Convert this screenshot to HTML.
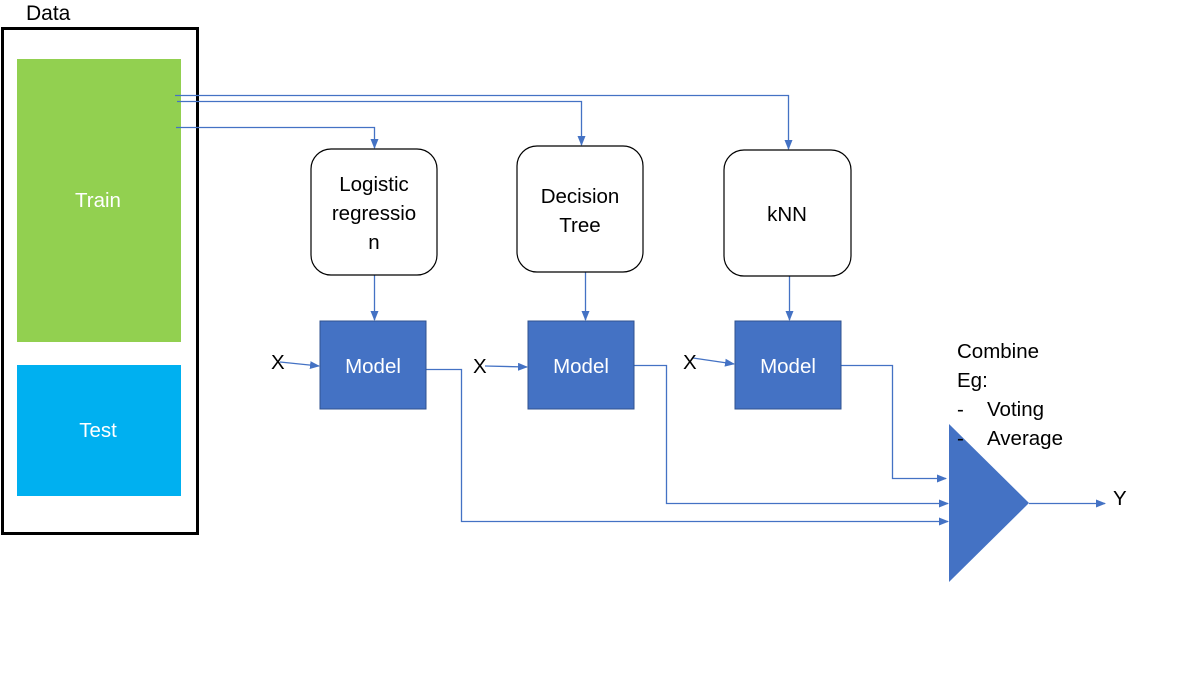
<!DOCTYPE html>
<html><head><meta charset="utf-8"><style>
html,body{margin:0;padding:0;background:#fff;}
svg{display:block;font-family:"Liberation Sans",sans-serif;}
</style></head><body>
<svg width="1199" height="698" viewBox="0 0 1199 698" xmlns="http://www.w3.org/2000/svg">
<defs>
<marker id="a" markerWidth="10" markerHeight="8" refX="9" refY="4" orient="auto" markerUnits="userSpaceOnUse">
<path d="M0,0 L10,4 L0,8 z" fill="#4472C4"/></marker>
</defs>
<text x="26" y="20" font-size="21" fill="#000">Data</text>
<rect x="2.5" y="28.5" width="195" height="505" fill="none" stroke="#000" stroke-width="3"/>
<rect x="17" y="59" width="164" height="283" fill="#92D050"/>
<text x="98" y="207" font-size="20.5" fill="#fff" text-anchor="middle">Train</text>
<rect x="17" y="365" width="164" height="131" fill="#00B0F0"/>
<text x="98" y="437" font-size="20.5" fill="#fff" text-anchor="middle">Test</text>

<g fill="none" stroke="#4472C4" stroke-width="1.3">
<polyline points="175,95.5 788.5,95.5 788.5,149" marker-end="url(#a)"/>
<polyline points="177,101.5 581.5,101.5 581.5,145" marker-end="url(#a)"/>
<polyline points="176,127.5 374.5,127.5 374.5,148" marker-end="url(#a)"/>
<line x1="374.5" y1="275" x2="374.5" y2="320" marker-end="url(#a)"/>
<line x1="585.5" y1="272" x2="585.5" y2="320" marker-end="url(#a)"/>
<line x1="789.5" y1="276" x2="789.5" y2="320" marker-end="url(#a)"/>
<line x1="280" y1="362" x2="319" y2="366" marker-end="url(#a)"/>
<line x1="485" y1="366" x2="527" y2="367" marker-end="url(#a)"/>
<line x1="693" y1="358" x2="734" y2="364" marker-end="url(#a)"/>
<polyline points="426,369.5 461.5,369.5 461.5,521.5 948,521.5" marker-end="url(#a)"/>
<polyline points="634,365.5 666.5,365.5 666.5,503.5 948,503.5" marker-end="url(#a)"/>
<polyline points="841,365.5 892.5,365.5 892.5,478.5 946,478.5" marker-end="url(#a)"/>
<line x1="1029" y1="503.5" x2="1105" y2="503.5" marker-end="url(#a)"/>
</g>

<g fill="#fff" stroke="#000" stroke-width="1.2">
<rect x="311" y="149" width="126" height="126" rx="20"/>
<rect x="517" y="146" width="126" height="126" rx="20"/>
<rect x="724" y="150" width="127" height="126" rx="20"/>
</g>
<g font-size="20.5" fill="#000" text-anchor="middle">
<text x="374" y="191">Logistic</text>
<text x="374" y="220">regressio</text>
<text x="374" y="249">n</text>
<text x="580" y="203">Decision</text>
<text x="580" y="232">Tree</text>
<text x="787" y="221">kNN</text>
</g>

<g fill="#4472C4" stroke="#2F528F" stroke-width="1">
<rect x="320" y="321" width="106" height="88"/>
<rect x="528" y="321" width="106" height="88"/>
<rect x="735" y="321" width="106" height="88"/>
</g>
<g font-size="20.5" fill="#fff" text-anchor="middle">
<text x="373" y="373">Model</text>
<text x="581" y="373">Model</text>
<text x="788" y="373">Model</text>
</g>
<g font-size="20.5" fill="#000">
<text x="271" y="369">X</text>
<text x="473" y="373">X</text>
<text x="683" y="369">X</text>
<text x="1113" y="505">Y</text>
</g>

<polygon points="949,424 1029,503 949,582" fill="#4472C4"/>
<g font-size="20.5" fill="#000">
<text x="957" y="358">Combine</text>
<text x="957" y="387">Eg:</text>
<text x="957" y="416">-</text><text x="987" y="416">Voting</text>
<text x="957" y="445">-</text><text x="987" y="445">Average</text>
</g>
</svg>
</body></html>
